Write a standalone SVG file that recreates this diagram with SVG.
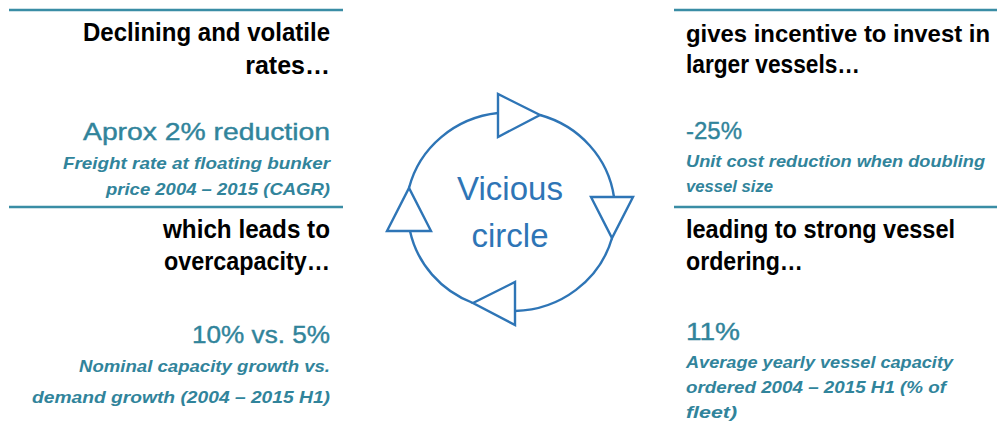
<svg xmlns="http://www.w3.org/2000/svg" width="997" height="425" viewBox="0 0 997 425">
  <style>
    .rule { stroke: #3A8DA5; stroke-width: 2.6; fill: none; }
    .head { font-family: "Liberation Sans", Arial, sans-serif; font-weight: bold; font-size: 25px; fill: #000000; }
    .fig { font-family: "Liberation Sans", Arial, sans-serif; font-size: 24px; fill: #31849B; stroke: #31849B; stroke-width: 0.4; }
    .note { font-family: "Liberation Sans", Arial, sans-serif; font-style: italic; font-weight: bold; font-size: 16.5px; fill: #31849B; }
    .end { text-anchor: end; }
    .ring { stroke: #2E75B6; stroke-width: 2.4; fill: none; }
    .tip { stroke: #2E75B6; stroke-width: 2.4; fill: #FFFFFF; stroke-linejoin: miter; }
    .centre { font-family: "Liberation Sans", Arial, sans-serif; font-size: 33px; fill: #2E75B6; text-anchor: middle; }
  </style>

  <!-- separator rules -->
  <g id="rules">
    <line class="rule" x1="9" y1="10" x2="343" y2="10"/>
    <line class="rule" x1="9" y1="207" x2="343" y2="207"/>
    <line class="rule" x1="674" y1="10" x2="997" y2="10"/>
    <line class="rule" x1="674" y1="207" x2="997" y2="207"/>
  </g>

  <!-- top left: rates -->
  <g id="rates">
    <text class="head end" x="330" y="41" textLength="247" lengthAdjust="spacingAndGlyphs">Declining and volatile</text>
    <text class="head end" x="330" y="74">rates…</text>
    <text class="fig end" x="330" y="140" textLength="247" lengthAdjust="spacingAndGlyphs">Aprox 2% reduction</text>
    <text class="note end" x="330" y="169" textLength="267" lengthAdjust="spacingAndGlyphs">Freight rate at floating bunker</text>
    <text class="note end" x="330" y="195" textLength="224" lengthAdjust="spacingAndGlyphs">price 2004 – 2015 (CAGR)</text>
  </g>

  <!-- bottom left: overcapacity -->
  <g id="overcapacity">
    <text class="head end" x="330" y="238" textLength="167" lengthAdjust="spacingAndGlyphs">which leads to</text>
    <text class="head end" x="330" y="270" textLength="166" lengthAdjust="spacingAndGlyphs">overcapacity…</text>
    <text class="fig end" x="330" y="343" textLength="138" lengthAdjust="spacingAndGlyphs">10% vs. 5%</text>
    <text class="note end" x="330" y="372" textLength="251" lengthAdjust="spacingAndGlyphs">Nominal capacity growth vs.</text>
    <text class="note end" x="330" y="403" textLength="298" lengthAdjust="spacingAndGlyphs">demand growth (2004 – 2015 H1)</text>
  </g>

  <!-- top right: larger vessels -->
  <g id="larger-vessels">
    <text class="head" x="686" y="42" style="font-size:24px" textLength="304" lengthAdjust="spacingAndGlyphs">gives incentive to invest in</text>
    <text class="head" x="686" y="73" textLength="174" lengthAdjust="spacingAndGlyphs">larger vessels…</text>
    <text class="fig" x="686" y="139" textLength="56" lengthAdjust="spacingAndGlyphs">-25%</text>
    <text class="note" x="686" y="167" textLength="299" lengthAdjust="spacingAndGlyphs">Unit cost reduction when doubling</text>
    <text class="note" x="686" y="192" textLength="87" lengthAdjust="spacingAndGlyphs">vessel size</text>
  </g>

  <!-- bottom right: vessel ordering -->
  <g id="vessel-ordering">
    <text class="head" x="686" y="238" textLength="269" lengthAdjust="spacingAndGlyphs">leading to strong vessel</text>
    <text class="head" x="686" y="270" textLength="117" lengthAdjust="spacingAndGlyphs">ordering…</text>
    <text class="fig" x="686" y="340" textLength="54" lengthAdjust="spacingAndGlyphs">11%</text>
    <text class="note" x="686" y="368" textLength="267" lengthAdjust="spacingAndGlyphs">Average yearly vessel capacity</text>
    <text class="note" x="686" y="393" textLength="260" lengthAdjust="spacingAndGlyphs">ordered 2004 – 2015 H1 (% of</text>
    <text class="note" x="686" y="418" textLength="51" lengthAdjust="spacingAndGlyphs">fleet)</text>
  </g>

  <!-- centre label -->
  <g id="vicious-circle">
    <text class="centre" x="510" y="200">Vicious</text>
    <text class="centre" x="510" y="247">circle</text>
  </g>

  <!-- clockwise cycle: four arcs, each ending in an open triangle -->
  <g id="connectors">
    <path class="ring" d="M540,115 A103.5,99.5 0 0 1 614,197"/>
    <path class="ring" d="M612,238 A103.5,99.5 0 0 1 515,311"/>
    <path class="ring" d="M473,303 A103.5,99.5 0 0 1 410,231"/>
    <path class="ring" d="M409,188 A103.5,99.5 0 0 1 498,113"/>
    <polygon class="tip" points="498,94 498,137 540,115"/>
    <polygon class="tip" points="591,197 633,197 612,238"/>
    <polygon class="tip" points="515,282 515,325 473,303"/>
    <polygon class="tip" points="387,231 431,231 409,188"/>
  </g>
</svg>
